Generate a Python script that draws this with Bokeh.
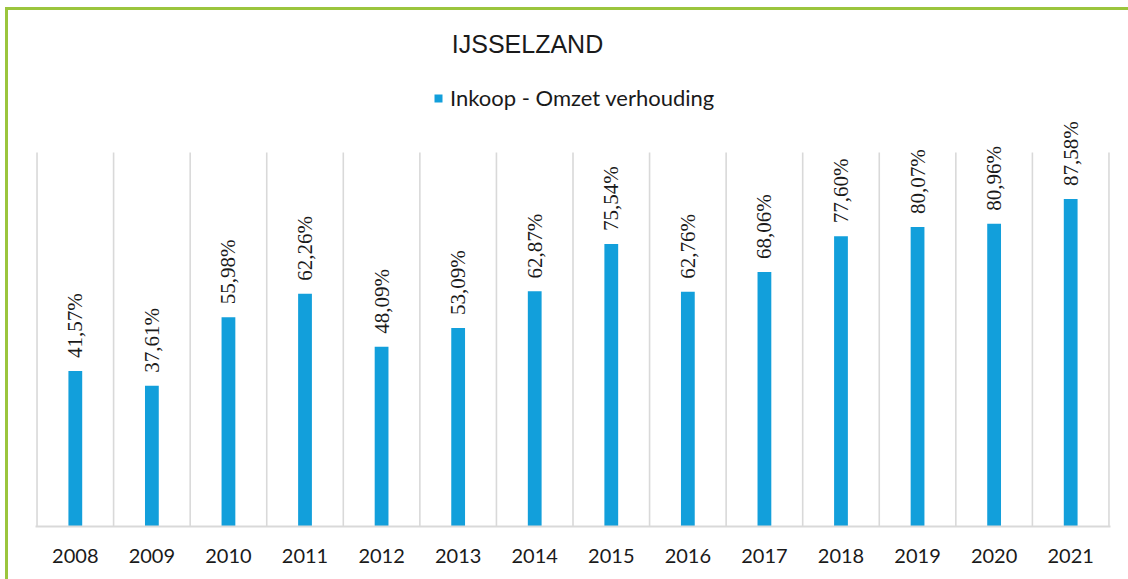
from bokeh.plotting import figure
from bokeh.models import (ColumnDataSource, Range1d, FixedTicker, LabelSet, Legend,
                          LegendItem, Label)
from bokeh.embed import file_html
from bokeh.resources import INLINE

years = ["2008", "2009", "2010", "2011", "2012", "2013", "2014",
         "2015", "2016", "2017", "2018", "2019", "2020", "2021"]
ratio = [41.57, 37.61, 55.98, 62.26, 48.09, 53.09, 62.87,
         75.54, 62.76, 68.06, 77.60, 80.07, 80.96, 87.58]
series_name = "Inkoop - Omzet verhouding"
chart_title = "IJSSELZAND"

BAR = "#129FDB"
GRID = "#D9D9D9"
TXT = "#1A1A1A"

n = len(years)
xs = list(range(n))
labels = [f"{v:.2f}%".replace(".", ",") for v in ratio]
src = ColumnDataSource(dict(x=xs, y=ratio, lab=labels))
bounds = [i - 0.5 for i in range(n + 1)]
gsrc = ColumnDataSource(dict(x=bounds, y0=[0] * len(bounds), y1=[100] * len(bounds)))

# plot frame: x 36..1109, y 0..526 ; value 100 sits at y=152
FRAME_H = 526
VAL_H = 374
p = figure(width=1128, height=579, output_backend="svg", toolbar_location=None,
           x_range=Range1d(-0.52, n - 0.48), y_range=Range1d(0, 100 * FRAME_H / VAL_H),
           min_border_left=35, min_border_right=18, min_border_top=0,
           min_border_bottom=53)
p.styles = {"box-shadow": "inset 5px 7px 0 0 white, inset 8px 10px 0 0 #9BC53D"}
p.outline_line_color = None
p.background_fill_alpha = 0
p.border_fill_alpha = 0

p.segment(x0="x", y0="y0", x1="x", y1="y1", source=gsrc, line_color=GRID,
          line_width=1.6)
r = p.vbar(x="x", top="y", width=0.18, source=src, fill_color=BAR, line_color=None)

p.yaxis.visible = False
p.grid.visible = False

ax = p.xaxis[0]
ax.ticker = FixedTicker(ticks=xs)
ax.major_label_overrides = {i: y for i, y in zip(xs, years)}
ax.major_tick_line_color = None
ax.minor_tick_line_color = None
ax.axis_line_color = GRID
ax.axis_line_width = 2
ax.major_label_text_font = "Lato"
ax.major_label_text_font_size = "20px"
ax.major_label_text_color = TXT
ax.major_label_standoff = 16

ls = LabelSet(x="x", y="y", text="lab", source=src, angle=1.5708,
              text_align="left", text_baseline="middle", y_offset=13,
              text_font="Lato", text_font_size="21px", text_color=TXT)
p.add_layout(ls)

legend = Legend(items=[LegendItem(label=series_name, renderers=[r])],
                orientation="horizontal", location=(398, 415),
                label_text_font="Lato", label_text_font_size="22px",
                label_text_color=TXT, glyph_width=10, glyph_height=10,
                label_standoff=7, border_line_color=None,
                background_fill_alpha=0, padding=0, margin=0)
p.add_layout(legend, "center")

t = Label(x=492, y=FRAME_H - 43, x_units="screen", y_units="screen", text=chart_title,
          text_font="Liberation Sans", text_font_size="25px", text_color=TXT,
          text_baseline="alphabetic", text_align="center")
p.add_layout(t)

open("out.html", "w").write(file_html(p, INLINE))
